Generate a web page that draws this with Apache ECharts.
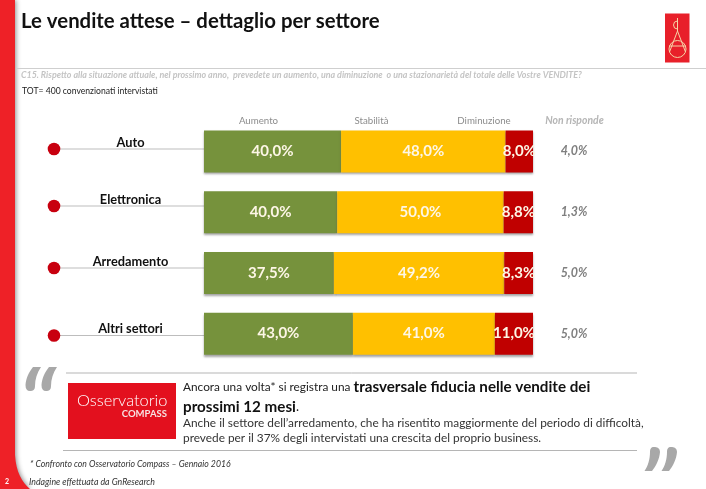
<!DOCTYPE html>
<html><head><meta charset="utf-8">
<script src="https://cdn.jsdelivr.net/npm/echarts@6/dist/echarts.min.js"></script>
<style>html,body{margin:0;padding:0;background:#fff}#c{width:706px;height:489px}</style>
</head><body><div id="c"></div>
<script>
const categories = ['Auto','Elettronica','Arredamento','Altri settori'];
const aumento = [40.0,40.0,37.5,43.0];
const stabilita = [48.0,50.0,49.2,41.0];
const diminuzione = [8.0,8.8,8.3,11.0];
const nonRisponde = [4.0,1.3,5.0,5.0];
const seriesNames = ['Aumento','Stabilità','Diminuzione'];

const FONT='Lato, Carlito, sans-serif';
const fmt=v=>v.toFixed(1).replace('.',',')+'%';
const rowTotal=i=>aumento[i]+stabilita[i]+diminuzione[i];
const share=(arr)=>arr.map((v,i)=>({value:v/rowTotal(i)*100,raw:v}));
const nameShift=[17,24,22,9];
const nameRich={};
nameShift.forEach((s,i)=>{nameRich['r'+i]={color:'#111',fontFamily:FONT,fontWeight:'bold',fontSize:12.8,padding:[0,0,s,0]};});

echarts.graphic.registerShape('band',echarts.graphic.extendPath('M0 0L15 0L15 455C16 472 22 482 30 489L0 489Z',{}));
echarts.graphic.registerShape('openQuote',echarts.graphic.extendPath('M33 367L41 367C37 373 35 379 35 386C35 390 33 391 30 391C27 391 25.5 389 25.5 385C26 378 29 372 33 367ZM49 367L57 367C53 373 51 379 51 386C51 390 49 391 46 391C43 391 41.5 389 41.5 385C42 378 45 372 49 367Z',{}));
echarts.graphic.registerShape('closeQuote',echarts.graphic.extendPath('M654 447C657 447 660 448 660 452C659.5 459 656 466 652 471L644.5 471C648 466 650 459 650 452C650 449 651 447 654 447ZM671 447C674 447 677 448 677 452C676.5 459 673 466 669 471L661.5 471C665 466 667 459 667 452C667 449 668 447 671 447Z',{}));

function barSeries(name,arr,color){
  return {name,type:'bar',stack:'s',data:share(arr),barWidth:42,
    itemStyle:{color,shadowColor:'rgba(90,90,90,0.55)',shadowBlur:2,shadowOffsetY:2},
    label:{show:true,position:'inside',color:'#fdf6e6',fontFamily:FONT,fontWeight:'bold',fontSize:15,
      formatter:p=>fmt(p.data.raw)},
    emphasis:{disabled:true},silent:true};
}
function txt(x,y,text,style){return {type:'text',x,y,silent:true,style:Object.assign({text,fontFamily:FONT,verticalAlign:'middle'},style)};}
function hline(x1,x2,y,stroke,w){return {type:'line',silent:true,shape:{x1,y1:y,x2,y2:y},style:{stroke,lineWidth:w||1}};}
const LOGO='#f6d3a6';

const graphic=[
  {type:'band',silent:true,style:{fill:'#ee2127',shadowColor:'rgba(0,0,0,0.45)',shadowBlur:5,shadowOffsetX:1}},
  txt(5,482,'2',{fill:'#fff',fontSize:7,fontWeight:'bold'}),
  txt(21,21.5,'Le vendite attese – dettaglio per settore',{fill:'#111',fontSize:20.35,fontWeight:'bold'}),
  hline(16,706,68.5,'#cfcfcf',1),
  txt(21,75.5,'C15. Rispetto alla situazione attuale, nel prossimo anno,  prevedete un aumento, una diminuzione  o una stazionarietà del totale delle Vostre VENDITE?',{fill:'#c4c4c4',fontSize:8.9,fontStyle:'italic',fontWeight:'bold'}),
  txt(22,91,'TOT= 400 convenzionati intervistati',{fill:'#222',fontSize:8.6}),
  {type:'rect',silent:true,shape:{x:665,y:13.5,width:24.5,height:49},style:{fill:'#e8202a'}},
  {type:'circle',silent:true,shape:{cx:677.5,cy:49,r:8.5},style:{fill:'none',stroke:LOGO,lineWidth:1}},
  {type:'line',silent:true,shape:{x1:669,y1:46,x2:686,y2:46},style:{stroke:LOGO,lineWidth:1}},
  {type:'polyline',silent:true,shape:{points:[[669.5,52],[677.5,31],[685.5,52]]},style:{fill:'none',stroke:LOGO,lineWidth:1}},
  {type:'line',silent:true,shape:{x1:677.5,y1:18,x2:677.5,y2:31},style:{stroke:LOGO,lineWidth:1}},
  {type:'arc',silent:true,shape:{cx:677.5,cy:25,r:4,startAngle:Math.PI*0.5,endAngle:Math.PI*1.5},style:{fill:'none',stroke:LOGO,lineWidth:1}},
  txt(258.5,121,seriesNames[0],{fill:'#8c8c8c',fontSize:9.7,align:'center'}),
  txt(371.5,121,seriesNames[1],{fill:'#8c8c8c',fontSize:9.7,align:'center'}),
  txt(484,121,seriesNames[2],{fill:'#8c8c8c',fontSize:9.7,align:'center'}),
  txt(574.5,121,'Non risponde',{fill:'#b5b5b5',fontSize:10.4,align:'center',fontStyle:'italic',fontWeight:'bold'}),
  ...[149,206,268,335.5].flatMap(y=>[
    hline(58,204,y,'#bdbdbd',1),
    {type:'circle',silent:true,shape:{cx:54,cy:y,r:6.3},style:{fill:'#c8000f'}}
  ]),
  {type:'openQuote',silent:true,style:{fill:'#a8a8a8'}},
  {type:'closeQuote',silent:true,style:{fill:'#a8a8a8'}},
  hline(66,637,373,'#b5b5b5',1),
  hline(63,637,450.5,'#b5b5b5',1),
  {type:'rect',silent:true,shape:{x:68,y:383,width:108,height:56},style:{fill:'#e3101e'}},
  txt(77,401,'Osservatorio',{fill:'#fff',fontSize:16.4,fontWeight:300}),
  txt(167,414,'COMPASS',{fill:'#f7e3e3',fontSize:9.5,fontWeight:'bold',align:'right'}),
  {type:'text',x:183,y:387,silent:true,style:{verticalAlign:'middle',fontFamily:FONT,text:'{a|Ancora una volta* si registra una }{b|trasversale fiducia nelle vendite dei}',
     rich:{a:{fontFamily:FONT,fontSize:11.85,fill:'#222'},b:{fontFamily:FONT,fontSize:15.2,fontWeight:'bold',fill:'#111'}}}},
  {type:'text',x:183,y:407,silent:true,style:{verticalAlign:'middle',fontFamily:FONT,text:'{b|prossimi 12 mesi}{a|.}',
     rich:{a:{fontFamily:FONT,fontSize:13,fill:'#222'},b:{fontFamily:FONT,fontSize:15.2,fontWeight:'bold',fill:'#111'}}}},
  txt(183,423.5,'Anche il settore dell’arredamento, che ha risentito maggiormente del periodo di difficoltà,',{fill:'#333',fontSize:11.85}),
  txt(183,438.5,'prevede per il 37% degli intervistati una crescita del proprio business.',{fill:'#333',fontSize:11.85}),
  txt(30,464,'* Confronto con Osservatorio Compass – Gennaio 2016',{fill:'#333',fontSize:8.7,fontStyle:'italic'}),
  txt(29,482,'Indagine effettuata da GnResearch',{fill:'#333',fontSize:8.8,fontStyle:'italic'})
];

const chart=echarts.init(document.getElementById('c'),null,{renderer:'canvas'});
chart.setOption({
  animation:false,backgroundColor:'#fff',
  grid:{left:204,top:121,width:329,height:243},
  xAxis:{type:'value',min:0,max:100,show:false},
  yAxis:[
    {type:'category',inverse:true,data:categories,
      axisLine:{show:false},axisTick:{show:false},
      axisLabel:{margin:73.5,align:'center',rich:nameRich,formatter:(v,i)=>'{r'+i+'|'+v+'}'}},
    {type:'category',inverse:true,position:'right',data:nonRisponde.map(fmt),
      axisLine:{show:false},axisTick:{show:false},
      axisLabel:{margin:41,align:'center',color:'#7f7f7f',fontFamily:FONT,fontStyle:'italic',fontWeight:'bold',fontSize:12.4,padding:[0,0,4,0]}}
  ],
  series:[barSeries(seriesNames[0],aumento,'#76923c'),barSeries(seriesNames[1],stabilita,'#ffc000'),barSeries(seriesNames[2],diminuzione,'#c00000')],
  graphic
});
</script></body></html>
